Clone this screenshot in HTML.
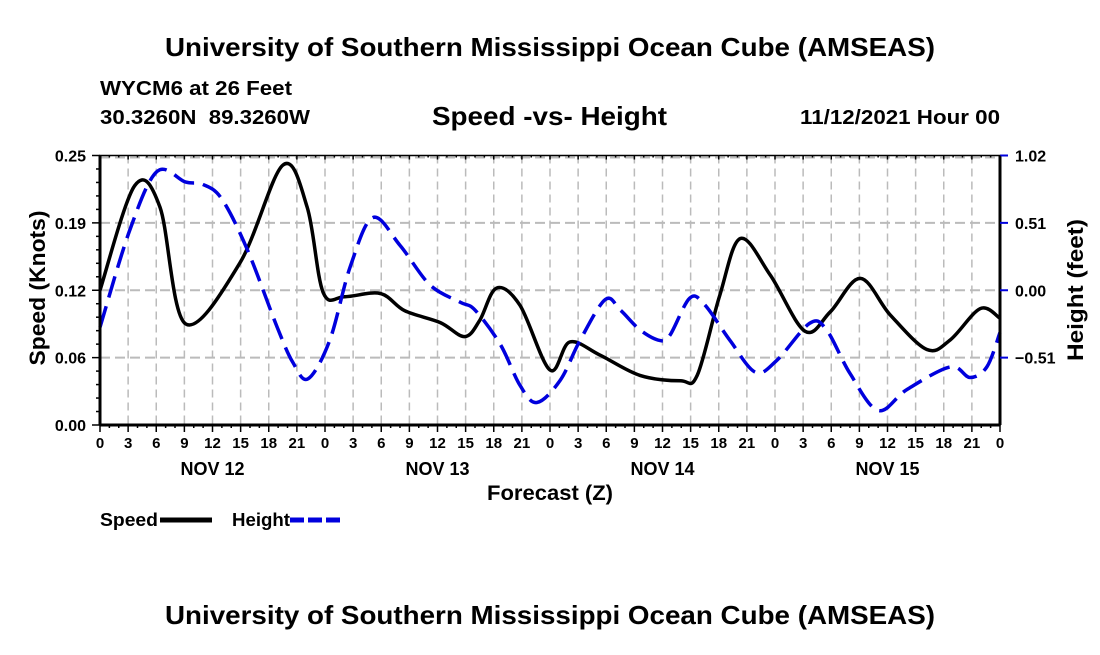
<!DOCTYPE html>
<html><head><meta charset="utf-8"><style>
body{margin:0;background:#fff;}
svg text{font-family:"Liberation Sans",sans-serif;font-weight:bold;}
</style></head><body>
<svg id="c" width="1100" height="650" xmlns="http://www.w3.org/2000/svg">
<text x="550" y="56" text-anchor="middle" font-size="26" textLength="770" lengthAdjust="spacingAndGlyphs">University of Southern Mississippi Ocean Cube (AMSEAS)</text>
<text x="100" y="95" font-size="20" textLength="192" lengthAdjust="spacingAndGlyphs">WYCM6 at 26 Feet</text>
<text x="100" y="124" font-size="20" textLength="210" lengthAdjust="spacingAndGlyphs" xml:space="preserve">30.3260N  89.3260W</text>
<text x="432" y="125" font-size="26" textLength="235" lengthAdjust="spacingAndGlyphs">Speed -vs- Height</text>
<text x="800" y="124" font-size="20" textLength="200" lengthAdjust="spacingAndGlyphs">11/12/2021 Hour 00</text>
<text x="550" y="624" text-anchor="middle" font-size="26" textLength="770" lengthAdjust="spacingAndGlyphs">University of Southern Mississippi Ocean Cube (AMSEAS)</text>
<g id="grid"></g><g id="series"></g><g id="axes"></g>
<text x="487" y="500" font-size="21" textLength="126" lengthAdjust="spacingAndGlyphs">Forecast (Z)</text>
<text transform="translate(45,288) rotate(-90)" text-anchor="middle" font-size="22" textLength="155" lengthAdjust="spacingAndGlyphs">Speed (Knots)</text>
<text transform="translate(1083,290) rotate(-90)" text-anchor="middle" font-size="22" textLength="142" lengthAdjust="spacingAndGlyphs">Height (feet)</text>
<g>
<text x="100" y="526" font-size="18" textLength="58" lengthAdjust="spacingAndGlyphs">Speed</text>
<line x1="160" y1="520" x2="212" y2="520" stroke="#000" stroke-width="5"/>
<text x="232" y="526" font-size="18" textLength="58" lengthAdjust="spacingAndGlyphs">Height</text>
<line x1="290" y1="520" x2="342" y2="520" stroke="#0000dd" stroke-width="5" stroke-dasharray="14,4"/>
</g>
</svg>
<script>
const speedHours=[0,3.7,6.4,9.1,14.9,19.5,22.1,23.8,26.1,29.9,32.5,36.3,38.9,40.5,42.3,44.8,48,50.1,53.3,57.6,61.9,63.7,66.1,68.3,71.5,75.2,77.9,81.1,84.3,88.2,90.7,93.9,96];
const speedValues=[0.125,0.222,0.202,0.094,0.150,0.241,0.202,0.123,0.119,0.122,0.106,0.095,0.082,0.097,0.127,0.111,0.051,0.077,0.065,0.046,0.041,0.046,0.120,0.173,0.139,0.087,0.105,0.136,0.102,0.070,0.079,0.108,0.099];
const heightHours=[0,3.2,6.1,9.1,11,13,15.7,18.9,20.6,22.2,24.5,26.7,29.1,32,35.2,38.4,40,42.7,44.8,46.6,49.1,51.2,53.9,55.5,57.6,59.7,60.8,62.9,64.5,67.2,69.9,72.2,75.7,77.5,80,83,86.1,90.7,92.8,94.6,96];
const heightValues=[-0.28,0.46,0.90,0.82,0.80,0.69,0.31,-0.28,-0.55,-0.67,-0.38,0.18,0.55,0.34,0.04,-0.09,-0.15,-0.41,-0.72,-0.85,-0.68,-0.38,-0.07,-0.15,-0.30,-0.38,-0.34,-0.06,-0.11,-0.38,-0.62,-0.53,-0.25,-0.30,-0.63,-0.91,-0.75,-0.58,-0.66,-0.58,-0.32];
const leftTickLabels=["0.00","0.06","0.12","0.19","0.25"];
const rightTickLabels=["-1.02","-0.51","0.00","0.51","1.02"];
const hourLabels=["0","3","6","9","12","15","18","21"];
const dayLabels=["NOV 12","NOV 13","NOV 14","NOV 15"];

const L=100,R=1000,T=155.5,B=425;
const xS=h=>L+(R-L)*h/96;
const yL=v=>B-(B-T)*v/0.25;
const yR=v=>B-(B-T)*(v+1.02)/2.04;
const NS="http://www.w3.org/2000/svg";
function mk(tag,attrs,parent){const e=document.createElementNS(NS,tag);for(const k in attrs)e.setAttribute(k,attrs[k]);document.getElementById(parent).appendChild(e);return e;}
function smooth(pts){let d="M"+pts[0][0]+","+pts[0][1];for(let i=0;i<pts.length-1;i++){const p0=pts[Math.max(0,i-1)],p1=pts[i],p2=pts[i+1],p3=pts[Math.min(pts.length-1,i+2)];const c1=[p1[0]+(p2[0]-p0[0])/6,p1[1]+(p2[1]-p0[1])/6],c2=[p2[0]-(p3[0]-p1[0])/6,p2[1]-(p3[1]-p1[1])/6];d+=" C"+c1[0]+","+c1[1]+" "+c2[0]+","+c2[1]+" "+p2[0]+","+p2[1];}return d;}
for(let i=1;i<4;i++){const g=mk("line",{x1:L,x2:R,y1:B-(B-T)*i/4,y2:B-(B-T)*i/4,stroke:"#bbb","stroke-width":2,"stroke-dasharray":"10,5"},"grid");

}
{const g=mk("line",{x1:L,x2:R,y1:T+2,y2:T+2,stroke:"#bbb","stroke-width":2,"stroke-dasharray":"10,5"},"grid");

}
for(let h=3;h<96;h+=3){const g=mk("line",{x1:xS(h),x2:xS(h),y1:T,y2:B,stroke:"#bbb","stroke-width":1.5,"stroke-dasharray":"8,5"},"grid");

}
const sp=mk("path",{d:smooth(speedHours.map((h,i)=>[xS(h),yL(speedValues[i])])),fill:"none",stroke:"#000","stroke-width":3.5},"series");


const hp=mk("path",{d:smooth(heightHours.map((h,i)=>[xS(h),yR(heightValues[i])])),fill:"none",stroke:"#0000dd","stroke-width":3.5,"stroke-dasharray":"22,9"},"series");


const fr=mk("rect",{x:L,y:T,width:R-L,height:B-T,fill:"none",stroke:"#000","stroke-width":1.5},"axes");


mk("line",{x1:L,x2:L,y1:T,y2:B,stroke:"#000","stroke-width":3},"axes");
mk("line",{x1:R,x2:R,y1:T,y2:B,stroke:"#000","stroke-width":3},"axes");
mk("line",{x1:L,x2:R,y1:B,y2:B,stroke:"#000","stroke-width":3},"axes");
for(let i=0;i<=20;i++){const y=B-(B-T)*i/20;mk("line",{x1:L-(i%5?4:8),x2:L,y1:y,y2:y,stroke:"#000","stroke-width":1.5},"axes");}
leftTickLabels.forEach((t,i)=>{const e=mk("text",{x:86,y:B-(B-T)*i/4+6,"text-anchor":"end","font-size":16},"axes");e.textContent=t;

});
rightTickLabels.forEach((t,i)=>{const y=B-(B-T)*i/4;if(i>0)mk("line",{x1:R,x2:R+8,y1:y,y2:y,stroke:"#0000dd","stroke-width":2},"axes");
if(i===0)return;const e=mk("text",{x:1015,y:y+6,"font-size":16},"axes");e.textContent=t.replace("-","\u2212");

});
for(let h=0;h<=96;h++){const x=xS(h);const len=h%3?3:7;mk("line",{x1:x,x2:x,y1:B,y2:B+len,stroke:"#000","stroke-width":1.5},"axes");mk("line",{x1:x,x2:x,y1:T,y2:T+(h%3?2:4),stroke:"#000","stroke-width":1.5},"axes");}
for(let h=0;h<=96;h+=3){const e=mk("text",{x:xS(h),y:448,"text-anchor":"middle","font-size":15},"axes");e.textContent=hourLabels[(h/3)%8];

}
dayLabels.forEach((t,i)=>{const e=mk("text",{x:xS(12+24*i),y:475,"text-anchor":"middle","font-size":18},"axes");e.textContent=t;

});
</script>
</body></html>
